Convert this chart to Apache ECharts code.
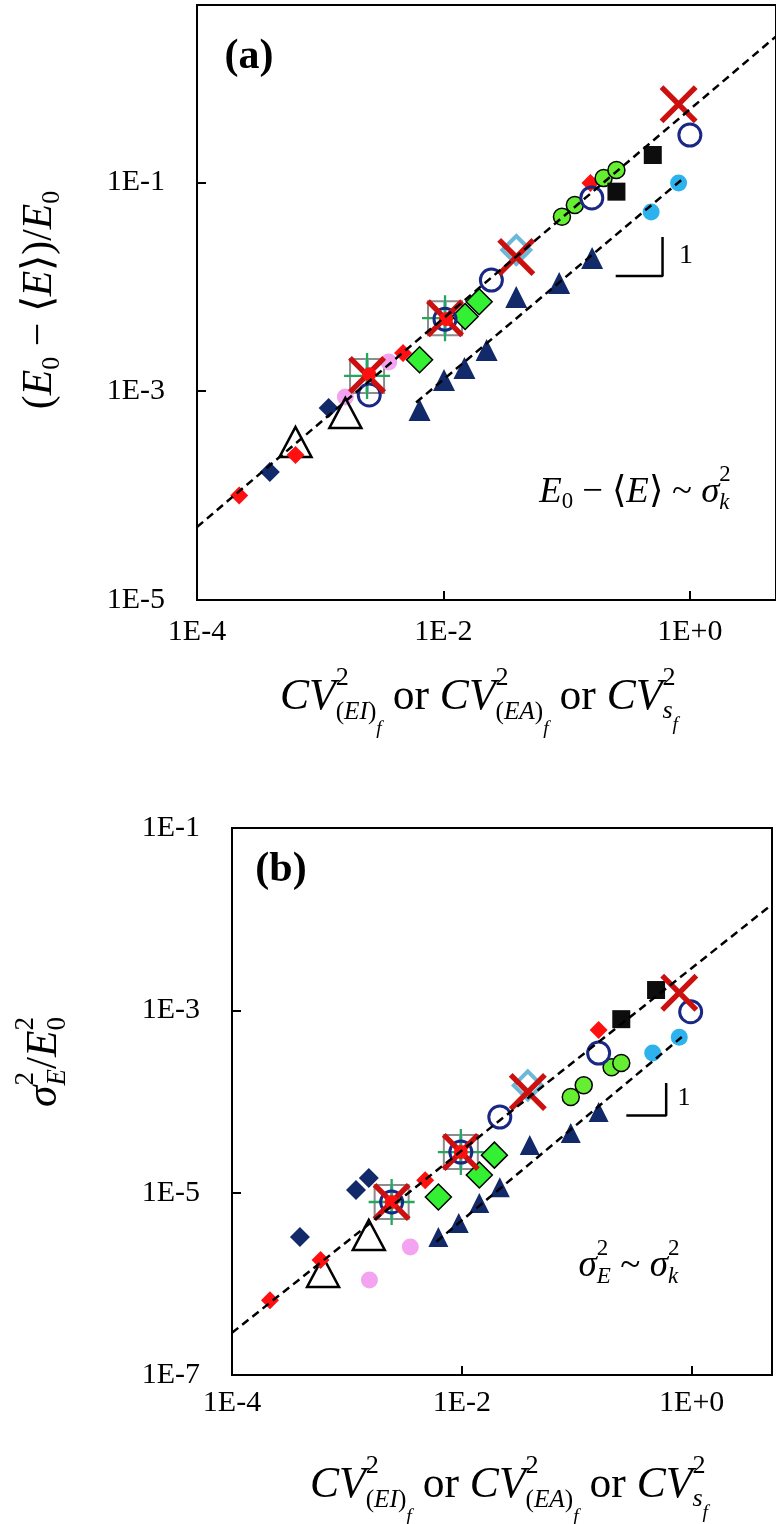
<!DOCTYPE html>
<html><head><meta charset="utf-8">
<script src="https://cdn.jsdelivr.net/npm/echarts@6/dist/echarts.min.js"></script>
<style>html,body{margin:0;padding:0;background:#fff}#c{width:776px;height:1524px}</style>
</head><body><div id="c"></div>
<script>
// ---------- tick labels ----------
const xTickLabels = ['1E-4', '1E-2', '1E+0'];
const yTickLabelsA = ['1E-5', '1E-3', '1E-1'];
const yTickLabelsB = ['1E-7', '1E-5', '1E-3', '1E-1'];

// ---------- panel (a): (E0-<E>)/E0 vs CV^2 ----------
const redDiamondA   = [[0.00022, 0.0001], [0.00063, 0.000245], [0.0047, 0.00232], [0.156, 0.0986]];
const navyDiamondA  = [[0.00039, 0.000168], [0.00117, 0.00069]];
const openTriangleA = [[0.00063, 0.000326], [0.0016, 0.000618]];
const pinkCircleA   = [[0.0016, 0.00088], [0.0036, 0.0019]];
const navyCircleA   = [[0.0025, 0.00092], [0.0103, 0.0049], [0.0245, 0.0116], [0.16, 0.071], [1.0, 0.284]];
const redXA         = [[0.0024, 0.00143], [0.0103, 0.005], [0.039, 0.0193], [0.81, 0.56]];
const graySquareA   = [[0.0024, 0.0014], [0.0103, 0.005]];
const greenPlusA    = [[0.0024, 0.0014], [0.0103, 0.005]];
const cyanStarA     = [[0.0024, 0.0014], [0.0103, 0.005]];
const redDotA       = [[0.0025, 0.00145], [0.0105, 0.0049]];
const cyanDiamondA  = [[0.039, 0.0225]];
const greenDiamondA = [[0.0064, 0.002], [0.015, 0.0052], [0.0195, 0.0072]];
const navyTriangleA = [[0.0064, 0.00066], [0.0101, 0.00128], [0.0148, 0.00167], [0.0224, 0.00248], [0.039, 0.008], [0.087, 0.0109], [0.161, 0.0189]];
const greenCircleA  = [[0.0916, 0.0469], [0.1165, 0.0608], [0.1995, 0.110], [0.2535, 0.1315]];
const blackSquareA  = [[0.2535, 0.0815], [0.5, 0.183]];
const cyanCircleA   = [[0.485, 0.052], [0.81, 0.0986]];
const fitUpperA     = [[1e-4, 5e-5], [5, 2.5]];
const fitLowerA     = [[0.006, 0.00078], [0.85, 0.105]];
const slopeA        = [[0.25, 0.0127], [0.6, 0.0127], [0.6, 0.03]];

// ---------- panel (b): sigma_E^2/E0^2 vs CV^2 ----------
const redDiamondB   = [[0.000214, 6.6e-7], [0.00059, 1.82e-6], [0.0048, 1.37e-5], [0.155, 6.07e-4]];
const navyDiamondB  = [[0.00039, 3.26e-6], [0.0012, 1.07e-5], [0.00155, 1.45e-5]];
const openTriangleB = [[0.00062, 1.35e-6], [0.00155, 3.43e-6]];
const pinkCircleB   = [[0.00157, 1.1e-6], [0.00356, 2.54e-6]];
const navyCircleB   = [[0.00245, 7.9e-6], [0.0098, 2.79e-5], [0.0214, 6.75e-5], [0.155, 3.4e-4], [0.98, 9.64e-4]];
const redXB         = [[0.00245, 7.9e-6], [0.0098, 2.79e-5], [0.0375, 1.27e-4], [0.78, 1.56e-3]];
const graySquareB   = [[0.00245, 7.9e-6], [0.0098, 2.79e-5]];
const greenPlusB    = [[0.00245, 7.9e-6], [0.0098, 2.79e-5]];
const cyanStarB     = [[0.00245, 7.9e-6], [0.0098, 2.79e-5]];
const redDotB       = [[0.00245, 7.9e-6], [0.0098, 2.79e-5]];
const cyanDiamondB  = [[0.0375, 1.5e-4]];
const greenDiamondB = [[0.00625, 8.95e-6], [0.0142, 1.56e-5], [0.0192, 2.58e-5]];
const navyTriangleB = [[0.00625, 3.26e-6], [0.0094, 4.65e-6], [0.0142, 7.7e-6], [0.0214, 1.15e-5], [0.039, 3.33e-5], [0.0887, 4.5e-5], [0.155, 7.66e-5]];
const greenCircleB  = [[0.0887, 1.12e-4], [0.115, 1.51e-4], [0.201, 2.38e-4], [0.244, 2.64e-4]];
const blackSquareB  = [[0.244, 8e-4], [0.49, 1.67e-3]];
const cyanCircleB   = [[0.458, 3.4e-4], [0.78, 5.08e-4]];
const fitUpperB     = [[1e-4, 2.9e-7], [5, 0.0145]];
const fitLowerB     = [[0.006, 2.9e-6], [0.82, 5.1e-4]];
const slopeB        = [[0.27, 7e-5], [0.6, 7e-5], [0.6, 1.6e-4]];

// ---------- symbols ----------
const X_PATH = 'path://M0,10 L10,0 L50,40 L90,0 L100,10 L60,50 L100,90 L90,100 L50,60 L10,100 L0,90 L40,50 Z';
const PLUS_PATH = 'path://M47.5,0 L52.5,0 L52.5,47.5 L100,47.5 L100,52.5 L52.5,52.5 L52.5,100 L47.5,100 L47.5,52.5 L0,52.5 L0,47.5 L47.5,47.5 Z';
const STAR_PATH = 'path://M0,8 L8,0 L50,42 L92,0 L100,8 L58,50 L100,92 L92,100 L50,58 L8,100 L0,92 L42,50 Z M45,0 L55,0 L55,100 L45,100 Z';
const NONE = 'rgba(0,0,0,0)';

function sc(data, p, symbol, size, itemStyle, z) {
  itemStyle.opacity = 1;
  return { type: 'scatter', xAxisIndex: p, yAxisIndex: p, data: data, symbol: symbol, symbolSize: size,
           itemStyle: itemStyle, z: z, silent: true, animation: false };
}
function ln(data, p, dashed) {
  return { type: 'line', xAxisIndex: p, yAxisIndex: p, data: data, showSymbol: false, symbol: 'none',
           lineStyle: { color: '#000', width: 2.5, type: dashed ? [8, 5] : 'solid', opacity: 1 }, z: 20, silent: true, animation: false };
}
function panelSeries(p, d) {
  return [
    sc(d.graySquare, p, 'rect', 34, { color: NONE, borderColor: '#8c8c8c', borderWidth: 2 }, 2),
    sc(d.cyanStar, p, STAR_PATH, 34, { color: '#6cb8d8' }, 3),
    sc(d.greenPlus, p, PLUS_PATH, 46, { color: '#22a85a' }, 4),
    sc(d.pink, p, 'circle', 17, { color: '#f3a3ef' }, 2),
    sc(d.openTri, p, 'triangle', [32, 30], { color: NONE, borderColor: '#000', borderWidth: 2.5 }, 3),
    sc(d.navyDia, p, 'diamond', 20, { color: '#12296a' }, 4),
    sc(d.redDia, p, 'diamond', 18, { color: '#ff1010' }, 5),
    sc(d.greenDia, p, 'diamond', 26, { color: '#33f033', borderColor: '#000', borderWidth: 1.5 }, 5),
    sc(d.navyTri, p, 'triangle', p === 0 ? 22 : 20, { color: '#12296a' }, 5),
    sc(d.greenCir, p, 'circle', 17, { color: '#66ee33', borderColor: '#000', borderWidth: 1.5 }, 5),
    sc(d.blackSq, p, 'rect', 18, { color: '#0d0d0d' }, 5),
    sc(d.cyanCir, p, 'circle', 17, { color: '#2eb2ee' }, 5),
    sc(d.cyanDia, p, 'diamond', 28, { color: NONE, borderColor: '#6cb8d8', borderWidth: 4 }, 6),
    sc(d.navyCir, p, 'circle', 22, { color: NONE, borderColor: '#1a2784', borderWidth: 3 }, 7),
    sc(d.redX, p, X_PATH, 38, { color: '#cc1010' }, 8),
    sc(d.redDot, p, 'circle', 14, { color: '#ff1010' }, 9),
    ln(d.fitUpper, p, true), ln(d.fitLower, p, true), ln(d.slope, p, false)
  ];
}

// ---------- axes ----------
const FAM = '"Liberation Serif"';
function fmt(labels) {
  return function (v) {
    const e = Math.log10(v), r = Math.round(e);
    if (Math.abs(e - r) > 1e-6) return '';
    const s = '1E' + (r >= 0 ? '+' : '') + r;
    return labels.indexOf(s) >= 0 ? s : '';
  };
}
function axis(grid, min, max, labels, margin) {
  return {
    gridIndex: grid, type: 'log', logBase: 10, min: min, max: max, interval: 2,
    axisLine: { show: true, onZero: false, lineStyle: { color: '#000', width: 2 } },
    axisTick: { show: true, inside: true, length: 9, lineStyle: { color: '#000', width: 2 } },
    minorTick: { show: false }, splitLine: { show: false }, minorSplitLine: { show: false },
    axisLabel: { show: true, margin: margin, color: '#000', fontFamily: FAM, fontSize: 30,
                 showMinLabel: true, showMaxLabel: false, formatter: fmt(labels) }
  };
}

// ---------- math text helper ----------
const mctx = document.createElement('canvas').getContext('2d');
function fontStr(p, px) { return (p.i ? 'italic ' : '') + (p.b ? 'bold ' : '') + px.toFixed(2) + 'px ' + FAM; }
function mw(p, px) { mctx.font = fontStr(p, px); return mctx.measureText(p.t).width; }
function layoutMath(tokens, S) {
  let x = 0; const out = [];
  for (const tk of tokens) {
    const rows = tk.stack ? tk.stack : [[tk]];
    let w = 0;
    for (const row of rows) {
      let rx = x;
      for (const p of row) { const px = (p.s || 1) * S; out.push({ p: p, px: px, x: rx, y: (p.dy || 0) * S }); rx += mw(p, px); }
      w = Math.max(w, rx - x);
    }
    x += w;
  }
  return { out: out, w: x };
}
function mathGroup(tokens, width, cx, cy, rot) {
  const L0 = layoutMath(tokens, 30);
  const S = 30 * width / L0.w;
  const L = layoutMath(tokens, S);
  return { type: 'group', x: cx, y: cy, rotation: rot || 0, silent: true,
    children: L.out.map(o => ({ type: 'text', x: o.x - L.w / 2, y: o.y, silent: true,
      style: { text: o.p.t, font: fontStr(o.p, o.px), fill: '#000', align: 'left', verticalAlign: 'middle' } })) };
}
const SUP = t => [{ t: t, s: 0.6, dy: -0.46 }];
const cvSub = (inner) => [{ t: '(', s: 0.58, dy: 0.32 }, { t: inner, s: 0.58, dy: 0.32, i: true }, { t: ')', s: 0.58, dy: 0.32 }, { t: 'f', s: 0.45, dy: 0.7, i: true }];
const xTitleTokens = [
  { t: 'CV', i: true }, { stack: [SUP('2'), cvSub('EI')] }, { t: ' or ' },
  { t: 'CV', i: true }, { stack: [SUP('2'), cvSub('EA')] }, { t: ' or ' },
  { t: 'CV', i: true }, { stack: [SUP('2'), [{ t: 's', s: 0.6, dy: 0.3, i: true }, { t: 'f', s: 0.45, dy: 0.62, i: true }]] }
];
const yTitleTokensA = [
  { t: '(' }, { t: 'E', i: true }, { t: '0', s: 0.62, dy: 0.28 }, { t: ' − ⟨' }, { t: 'E', i: true },
  { t: '⟩)/' }, { t: 'E', i: true }, { t: '0', s: 0.62, dy: 0.28 }
];
const sq2 = (sub, it) => ({ stack: [[{ t: '2', s: 0.62, dy: -0.45 }], [{ t: sub, s: 0.62, dy: 0.3, i: it }]] });
const yTitleTokensB = [{ t: 'σ', i: true }, sq2('E', true), { t: '/' }, { t: 'E', i: true }, sq2('0', false)];
const noteTokensA = [
  { t: 'E', i: true }, { t: '0', s: 0.62, dy: 0.28 }, { t: ' − ⟨' }, { t: 'E', i: true }, { t: '⟩ ~ ' },
  { t: 'σ', i: true }, sq2('k', true)
];
const noteTokensB = [{ t: 'σ', i: true }, sq2('E', true), { t: ' ~ ' }, { t: 'σ', i: true }, sq2('k', true)];

function plainText(text, x, y, font) {
  return { type: 'text', x: x, y: y, silent: true, style: { text: text, font: font, fill: '#000', align: 'center', verticalAlign: 'middle' } };
}

const chart = echarts.init(document.getElementById('c'), null, { renderer: 'canvas' });
chart.setOption({
  animation: false,
  backgroundColor: '#fff',
  grid: [
    { left: 197, top: 5, width: 584, height: 595, show: true, borderColor: '#000', borderWidth: 2, backgroundColor: NONE },
    { left: 232, top: 828, width: 540, height: 547, show: true, borderColor: '#000', borderWidth: 2, backgroundColor: NONE }
  ],
  xAxis: [axis(0, 1e-4, 5, xTickLabels, 17), axis(1, 1e-4, 5, xTickLabels, 13)],
  yAxis: [axis(0, 1e-5, 5, yTickLabelsA, 32), axis(1, 1e-7, 0.1, yTickLabelsB, 32)],
  series: panelSeries(0, {
    graySquare: graySquareA, cyanStar: cyanStarA, greenPlus: greenPlusA, pink: pinkCircleA, openTri: openTriangleA,
    navyDia: navyDiamondA, redDia: redDiamondA, greenDia: greenDiamondA, navyTri: navyTriangleA, greenCir: greenCircleA,
    blackSq: blackSquareA, cyanCir: cyanCircleA, cyanDia: cyanDiamondA, navyCir: navyCircleA, redX: redXA, redDot: redDotA,
    fitUpper: fitUpperA, fitLower: fitLowerA, slope: slopeA
  }).concat(panelSeries(1, {
    graySquare: graySquareB, cyanStar: cyanStarB, greenPlus: greenPlusB, pink: pinkCircleB, openTri: openTriangleB,
    navyDia: navyDiamondB, redDia: redDiamondB, greenDia: greenDiamondB, navyTri: navyTriangleB, greenCir: greenCircleB,
    blackSq: blackSquareB, cyanCir: cyanCircleB, cyanDia: cyanDiamondB, navyCir: navyCircleB, redX: redXB, redDot: redDotB,
    fitUpper: fitUpperB, fitLower: fitLowerB, slope: slopeB
  })),
  graphic: [
    plainText('(a)', 249, 57, 'bold 42px ' + FAM),
    plainText('(b)', 281, 870, 'bold 42px ' + FAM),
    plainText('1', 686, 256, '28px ' + FAM),
    plainText('1', 684, 1098, '26px ' + FAM),
    mathGroup(xTitleTokens, 398, 479, 698, 0),
    mathGroup(xTitleTokens, 398, 509, 1486, 0),
    mathGroup(yTitleTokensA, 220, 40, 300, Math.PI / 2),
    mathGroup(yTitleTokensB, 90, 45, 1062, Math.PI / 2),
    mathGroup(noteTokensA, 193, 635, 492, 0),
    mathGroup(noteTokensB, 101, 629, 1266, 0)
  ]
});
</script></body></html>
